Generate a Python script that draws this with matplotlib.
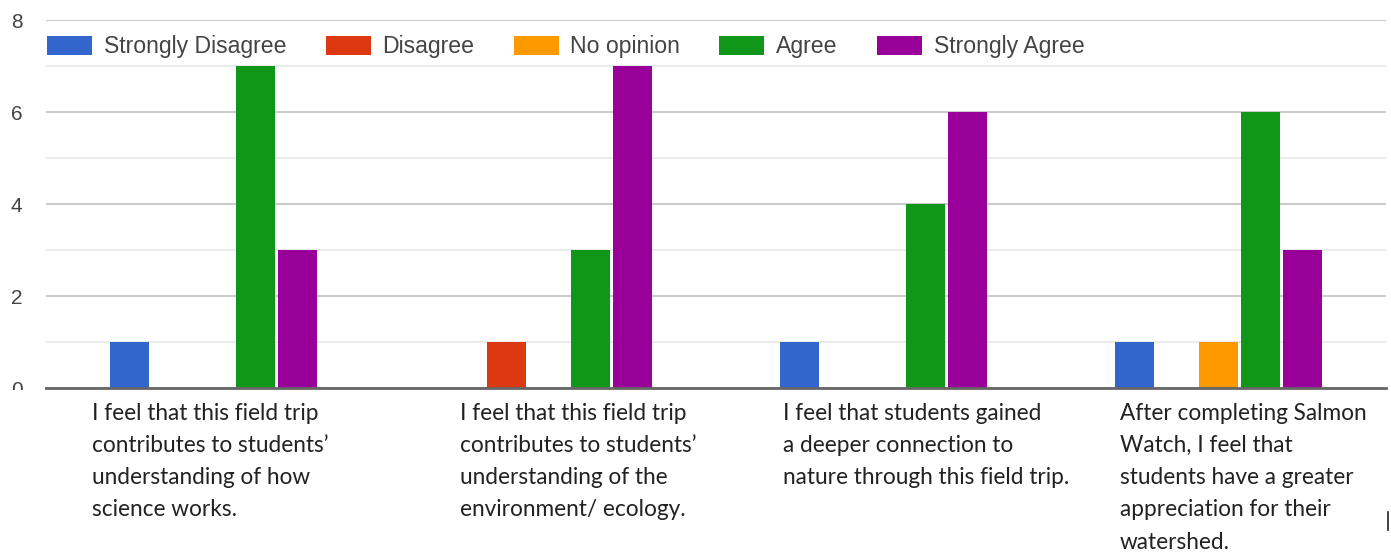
import matplotlib
matplotlib.use("Agg")
import matplotlib.pyplot as plt
import numpy as np
from matplotlib.transforms import Bbox
from matplotlib.lines import Line2D

# ---- data ----
categories = [
    "I feel that this field trip\ncontributes to students’\nunderstanding of how\nscience works.",
    "I feel that this field trip\ncontributes to students’\nunderstanding of the\nenvironment/ ecology.",
    "I feel that students gained\na deeper connection to\nnature through this field trip.",
    "After completing Salmon\nWatch, I feel that\nstudents have a greater\nappreciation for their\nwatershed.",
]
series_names = ["Strongly Disagree", "Disagree", "No opinion", "Agree", "Strongly Agree"]
strongly_disagree = [1, 0, 1, 1]
disagree = [0, 1, 0, 0]
no_opinion = [0, 0, 0, 1]
agree = [7, 3, 4, 6]
strongly_agree = [3, 7, 6, 3]
y_ticks = [0, 2, 4, 6, 8]

series_values = [strongly_disagree, disagree, no_opinion, agree, strongly_agree]
colors = ["#3366cc", "#dc3912", "#ff9900", "#109618", "#990099"]

W, H = 1391, 552
fig = plt.figure(figsize=(W / 100, H / 100), dpi=100)
ax_left, ax_right = 46, 1386
ax_top, ax_bottom = 20, 388
ax = fig.add_axes([ax_left / W, (H - ax_bottom) / H,
                   (ax_right - ax_left) / W, (ax_bottom - ax_top) / H])

x = np.arange(len(categories))
step = 42 / 335
bw = 39 / 335
for i, (name, vals, c) in enumerate(zip(series_names, series_values, colors)):
    ax.bar(x + (i - 2) * step, vals, width=bw, color=c, label=name, zorder=3,
           edgecolor="none")

ax.set_xlim(-0.5, len(categories) - 0.5)
ax.set_ylim(0, 8)
ax.set_yticks(y_ticks)
ax.set_yticks([1, 3, 5, 7], minor=True)
ax.grid(axis="y", which="major", color="#cccccc", linewidth=1.5, zorder=0)
ax.grid(axis="y", which="minor", color="#ebebeb", linewidth=1.5, zorder=0)
ax.tick_params(axis="y", which="both", length=0, pad=17, labelsize=15, labelcolor="#444444")
ax.tick_params(axis="x", which="both", length=0, labelbottom=False)
for s in ["top", "right", "left"]:
    ax.spines[s].set_visible(False)
ax.spines["bottom"].set_color("#666666")
ax.spines["bottom"].set_linewidth(2)
ax.spines["bottom"].set_zorder(4)

for lbl in ax.get_yticklabels():
    lbl.set_fontfamily("Liberation Sans")

# clip the "0" tick label like the reference
fig.canvas.draw()
zero_lbl = ax.get_yticklabels()[0]
zero_lbl.set_clip_on(True)
zero_lbl.set_clip_box(Bbox.from_extents(0, H - 390, W, H))

# legend
fs_leg = 16.6
px = fs_leg * 100 / 72
leg = ax.legend(loc="center left", bbox_to_anchor=(1 / 1340, 1 - 27 / 368),
                ncol=5, frameon=False, prop={"family": "Liberation Sans", "size": fs_leg},
                handlelength=45 / px, handleheight=21 / px, handletextpad=12 / px,
                columnspacing=39 / px, borderpad=0, borderaxespad=0)
for t in leg.get_texts():
    t.set_color("#444444")

# category labels (left-aligned text blocks below the axis)
label_left_px = [92, 460, 783, 1120]
for cat, lx in zip(categories, label_left_px):
    fig.text(lx / W, (H - 403) / H, cat, ha="left", va="top",
             family="Lato", fontsize=16.3, color="#222222", linespacing=1.655)

# stray cursor mark
fig.add_artist(Line2D([1388 / W, 1388 / W], [(H - 512) / H, (H - 530) / H],
                      color="#222222", linewidth=1.2))

fig.savefig("out.png", dpi=100)
